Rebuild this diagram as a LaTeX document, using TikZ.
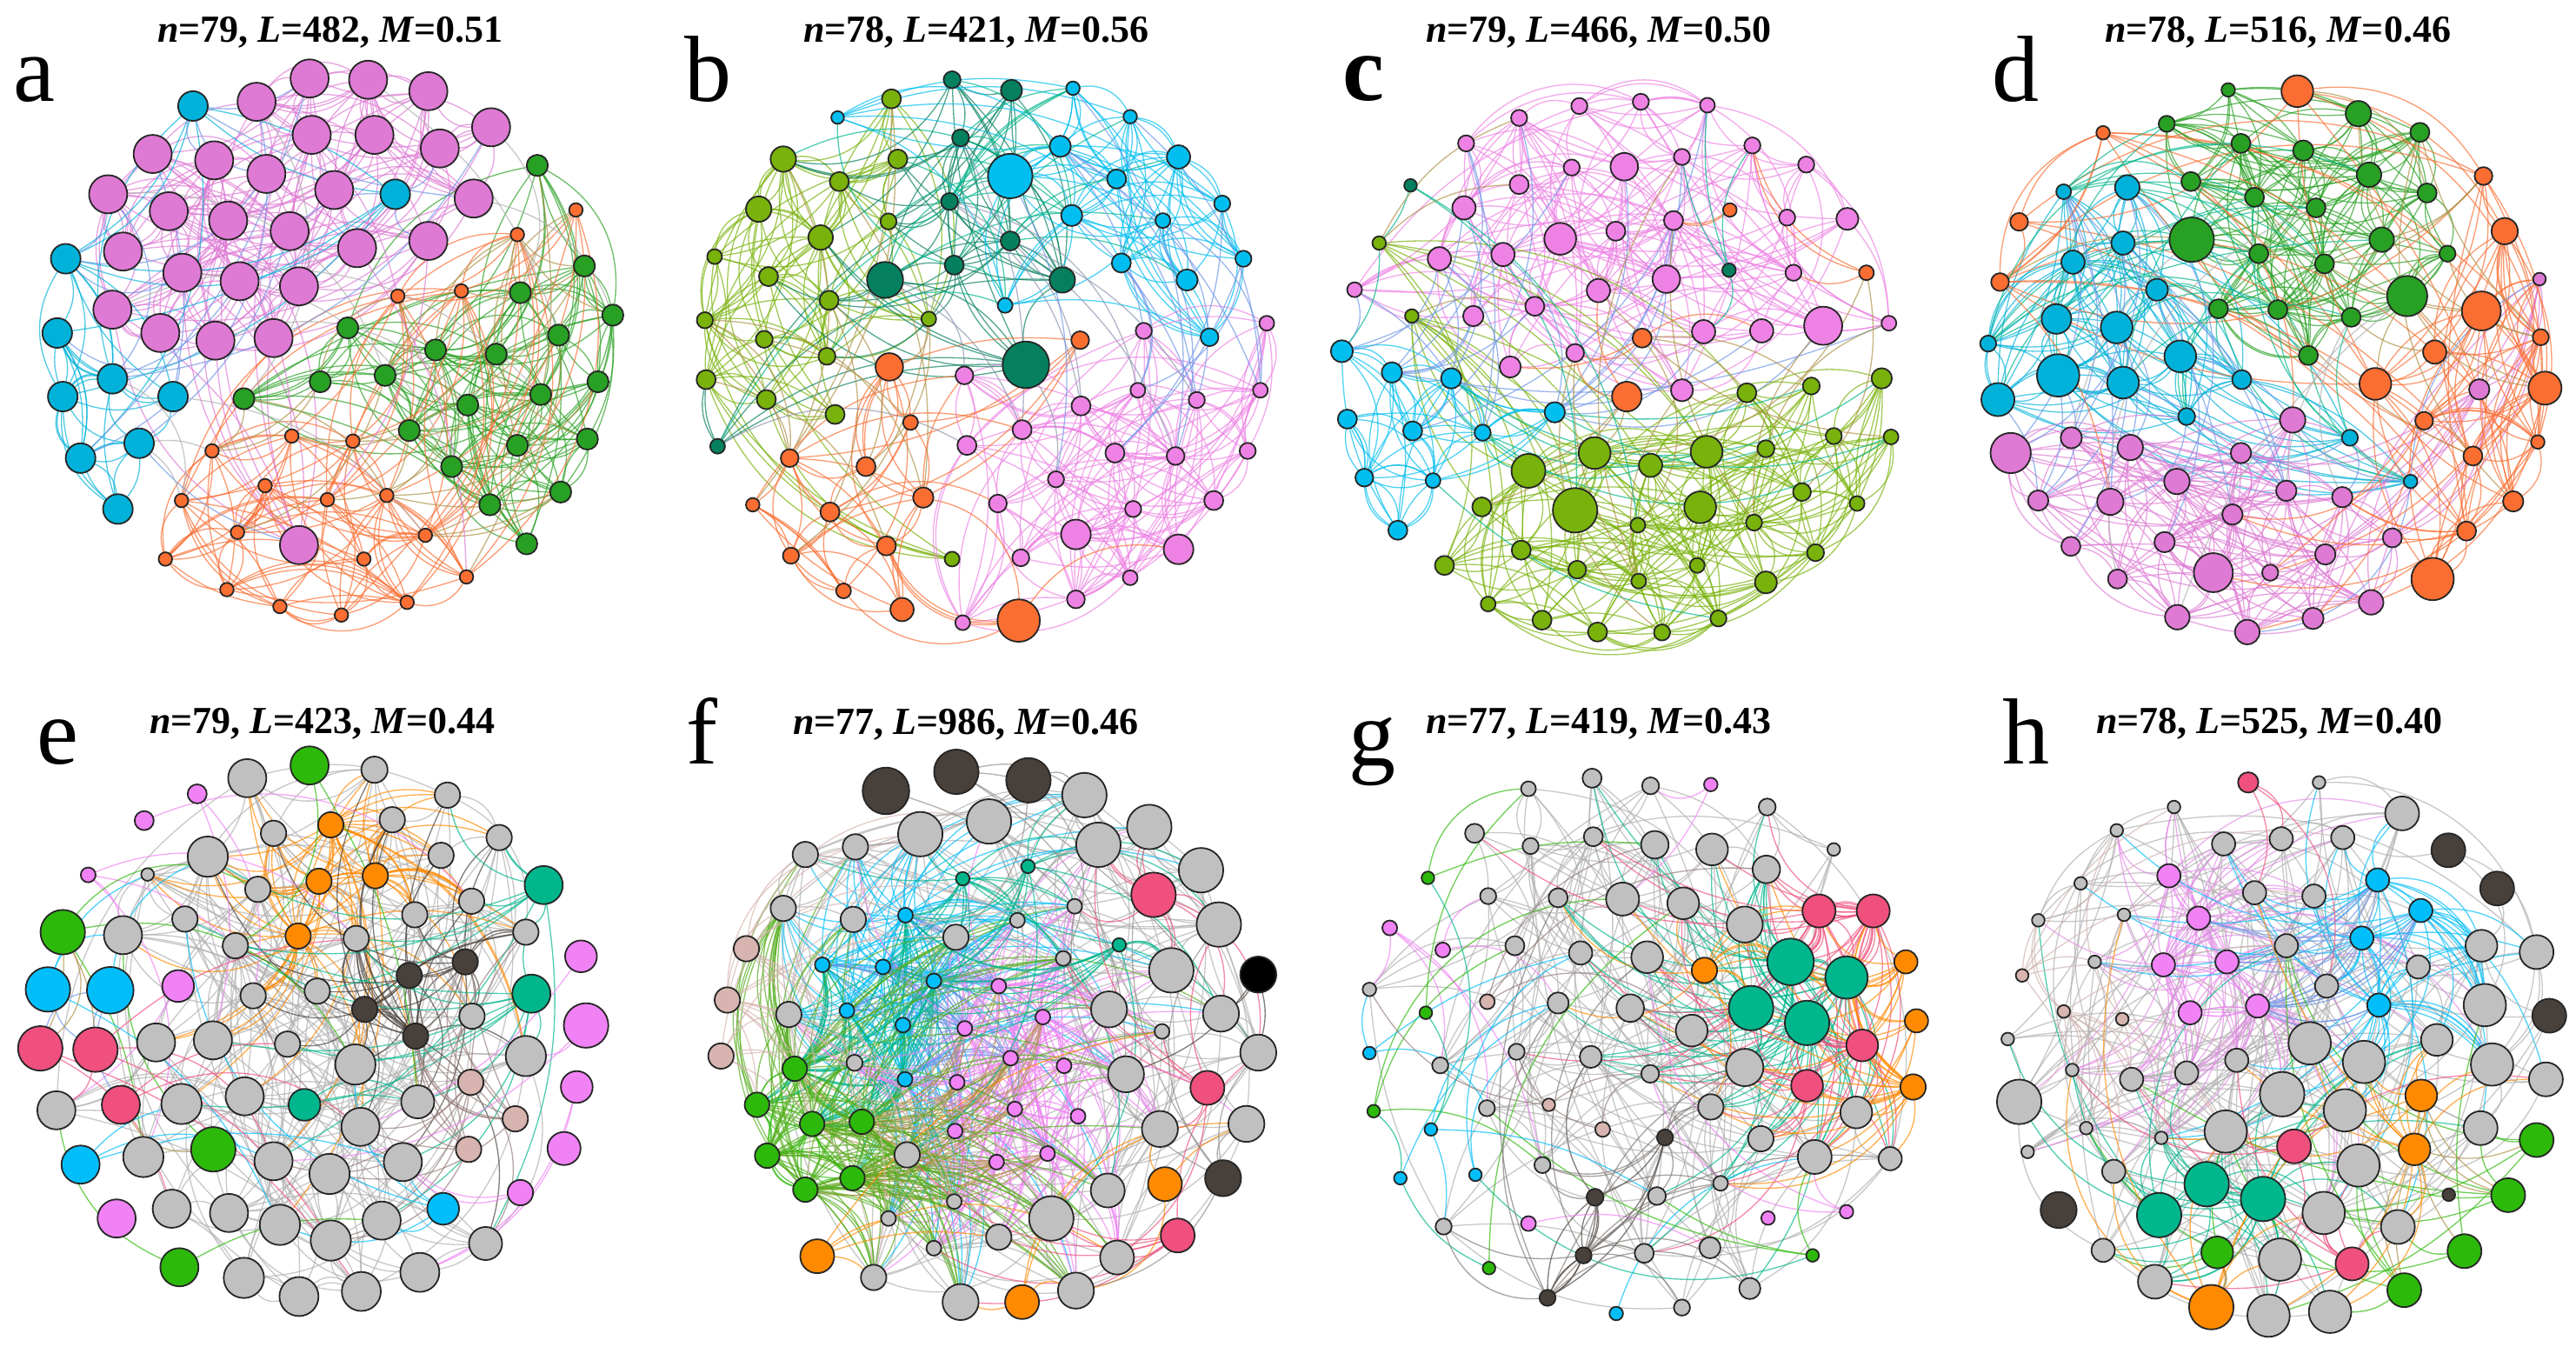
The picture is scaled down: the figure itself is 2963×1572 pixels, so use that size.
\documentclass[tikz,border=0pt]{standalone}
\usepackage{fontspec}
\setmainfont{Liberation Serif}
\pgfdeclarelayer{bgfill}
\pgfdeclarelayer{background}
\pgfsetlayers{bgfill,background,main}
\definecolor{pinkA}{RGB}{222,122,212}
\definecolor{cyanA}{RGB}{0,178,218}
\definecolor{greenA}{RGB}{40,160,35}
\definecolor{orangeA}{RGB}{250,110,50}
\definecolor{oliveB}{RGB}{120,178,10}
\definecolor{tealB}{RGB}{5,128,95}
\definecolor{cyanB}{RGB}{0,190,240}
\definecolor{pinkB}{RGB}{238,130,228}
\definecolor{greyN}{RGB}{192,192,192}
\definecolor{greyEdge}{RGB}{175,175,175}
\definecolor{greenE}{RGB}{45,185,10}
\definecolor{cyanE}{RGB}{0,190,250}
\definecolor{redE}{RGB}{240,80,125}
\definecolor{tealE}{RGB}{0,182,140}
\definecolor{orangeE}{RGB}{255,138,0}
\definecolor{darkE}{RGB}{72,64,58}
\definecolor{rosyE}{RGB}{215,180,175}
\definecolor{violetE}{RGB}{240,130,245}
\definecolor{cornE}{RGB}{110,150,230}
\definecolor{tanE}{RGB}{175,145,70}
\definecolor{bluegrayE}{RGB}{140,150,175}
\tikzset{
  netnode/.style={circle, draw=black!85, line width=0.45pt, inner sep=0pt, outer sep=0pt},
  netedge/.style={line width=0.33pt, opacity=0.68},
  paneltitle/.style={font=\fontsize{11}{12}\selectfont\bfseries, anchor=base, inner sep=0pt},
  panelletter/.style={font=\fontsize{27}{27}\selectfont, anchor=base west, inner sep=0pt},
  panelscope/.style={x=0.121951pt, y=-0.121951pt}
}
% place a community and remember node coordinates (in hundreds of units)
\newcommand\placecomm[3]{%
  \foreach \x/\y/\d [count=\k] in {#3} {%
    \node[netnode, fill=#2, minimum size=\d*0.122pt] (#1\k) at (\x,\y) {};
    \pgfmathsetmacro\sx{\x/100}\pgfmathsetmacro\sy{\y/100}%
    \expandafter\xdef\csname nx@#1\k\endcsname{\sx}%
    \expandafter\xdef\csname ny@#1\k\endcsname{\sy}}}
% among #5 random candidates of community #3 (size #4), pick the nearest to node #1#2
\newcommand\pickNear[5]{%
  \xdef\bestj{#2}\xdef\bestd{1000}%
  \foreach \t in {1,...,#5}{%
    \pgfmathtruncatemacro\cand{random(1,#4)}%
    \pgfmathsetmacro\dd{veclen(\csname nx@#1#2\endcsname-\csname nx@#3\cand\endcsname,\csname ny@#1#2\endcsname-\csname ny@#3\cand\endcsname)}%
    \pgfmathparse{and(\dd<\bestd,\dd>0.01)}%
    \ifdim\pgfmathresult pt>0.5pt \xdef\bestj{\cand}\xdef\bestd{\dd}\fi}}
\newcommand\intraedges[5]{%
  \foreach \i in {1,...,#2}{\foreach \r in {1,...,#3}{%
    \pickNear{#1}{\i}{#1}{#2}{2}%
    \pgfmathtruncatemacro\bnd{random(12,#5)}%
    \ifnum\bestj=\i\relax\else\draw[netedge,draw=#4] (#1\i) to[bend left=\bnd] (#1\bestj);\fi}}}
\newcommand\crossedges[6]{%
  \foreach \r in {1,...,#5}{%
    \pgfmathtruncatemacro\ii{random(1,#2)}%
    \pickNear{#1}{\ii}{#3}{#4}{3}%
    \pgfmathtruncatemacro\bnd{random(12,40)}%
    \draw[netedge,draw=#6] (#1\ii) to[bend left=\bnd] (#3\bestj);}}
\begin{document}
\begin{tikzpicture}[x=0.25pt,y=-0.25pt]
\pgfmathsetseed{12345}
\useasboundingbox (0,0) rectangle (2963,1572);
\begin{pgfonlayer}{bgfill}\fill[white] (0,0) rectangle (2963,1572);\end{pgfonlayer}

% ---------- titles and letters ----------
\node[paneltitle] (ta) at (380,49) {\textit{n}=79, \textit{L}=482, \textit{M}=0.51};
\node[paneltitle] (tb) at (1123,49) {\textit{n}=78, \textit{L}=421, \textit{M}=0.56};
\node[paneltitle] (tc) at (1839,49) {\textit{n}=79, \textit{L}=466, \textit{M}=0.50};
\node[paneltitle] (td) at (2620,49) {\textit{n}=78, \textit{L}=516, \textit{M}=0.46};
\node[paneltitle] (te) at (371,843) {\textit{n}=79, \textit{L}=423, \textit{M}=0.44};
\node[paneltitle] (tf) at (1111,844) {\textit{n}=77, \textit{L}=986, \textit{M}=0.46};
\node[paneltitle] (tg) at (1839,843) {\textit{n}=77, \textit{L}=419, \textit{M}=0.43};
\node[paneltitle] (th) at (2610,843) {\textit{n}=78, \textit{L}=525, \textit{M}=0.40};
\node[panelletter] (la) at (15,117) {a};
\node[panelletter] (lb) at (787,117) {b};
\node[panelletter,font=\fontsize{27}{27}\selectfont\bfseries] (lc) at (1544,116) {c};
\node[panelletter] (ld) at (2291,117) {d};
\node[panelletter] (le) at (42,878) {e};
\node[panelletter] (lf) at (789,878) {f};
\node[panelletter] (lg) at (1551,880) {g};
\node[panelletter] (lh) at (2303,878) {h};

% ---------- panel a ----------
\begin{scope}[shift={(0,0)},panelscope]
\placecomm{aP}{pinkA}{730/185/90, 868/188/90, 1010/215/90, 605/240/90, 1158/300/90, 735/318/90, 883/318/90, 1037/350/90, 360/363/90, 505/378/90, 628/410/90, 788/448/90, 255/458/90, 1117/468/90, 398/498/90, 538/520/90, 683/545/90, 842/585/90, 1010/568/90, 290/593/90, 430/643/90, 565/663/90, 705/675/90, 265/730/90, 378/785/90, 508/803/90, 645/797/90, 705/1285/90}
\placecomm{aC}{cyanA}{455/250/70, 932/458/70, 155/610/70, 135/785/70, 265/893/70, 148/935/70, 408/935/70, 328/1045/70, 190/1080/70, 278/1200/70}
\placecomm{aG}{greenA}{1267/390/50, 1378/627/50, 1227/690/50, 1445/743/50, 820/773/50, 1027/825/50, 1317/790/50, 1170/835/50, 908/885/50, 755/900/50, 575/940/50, 1410/900/50, 1275/930/50, 1103/955/50, 965/1015/50, 1220/1050/50, 1385/1035/50, 1065/1100/50, 1322/1160/50, 1155/1190/50, 1242/1282/50}
\placecomm{aO}{orangeA}{1358/495/32, 1220/553/32, 1088/686/32, 938/698/32, 688/1028/32, 832/1040/32, 500/1063/32, 625/1145/32, 428/1180/32, 772/1178/32, 912/1168/32, 560/1255/32, 1003/1262/32, 390/1318/32, 858/1318/32, 1100/1360/32, 535/1390/32, 660/1430/32, 805/1450/32, 960/1420/32}
\begin{pgfonlayer}{background}
\intraedges{aP}{28}{7}{pinkA}{40}
\intraedges{aC}{10}{5}{cyanA}{35}
\intraedges{aG}{21}{7}{greenA}{40}
\intraedges{aO}{20}{6}{orangeA}{40}
\crossedges{aP}{28}{aC}{10}{20}{cornE}
\crossedges{aG}{21}{aO}{20}{30}{tanE}
\crossedges{aP}{28}{aG}{21}{8}{greyEdge}
\crossedges{aP}{28}{aO}{20}{4}{pinkA}
\crossedges{aC}{10}{aO}{20}{4}{greyEdge}
\end{pgfonlayer}
\end{scope}

% ---------- panel b ----------
\begin{scope}[shift={(740,0)},panelscope]
\placecomm{bO}{oliveB}{585/233/45, 330/375/60, 600/375/45, 462/428/45, 272/493/60, 578/522/38, 418/560/58, 168/605/35, 295/652/45, 438/708/45, 673/752/35, 145/755/38, 285/800/40, 433/840/40, 148/895/45, 290/942/45, 452/977/45, 728/1318/35}
\placecomm{bT}{tealB}{728/188/40, 868/213/50, 748/325/40, 722/475/40, 865/568/45, 733/625/45, 570/660/85, 988/660/60, 902/860/110, 175/1052/35}
\placecomm{bC}{cyanB}{1013/208/32, 1148/275/32, 458/277/30, 983/345/50, 1262/370/55, 865/415/105, 1116/422/45, 1010/508/50, 1365/480/38, 1225/520/35, 1127/620/45, 1415/610/38, 1282/660/50, 853/720/35, 1335/795/42}
\placecomm{bP}{pinkB}{1180/780/38, 1470/762/35, 757/885/42, 1166/920/35, 1305/943/38, 1455/920/35, 1032/957/45, 893/1013/45, 763/1050/45, 1112/1068/45, 1255/1075/42, 1425/1063/38, 973/1130/38, 836/1187/42, 1155/1200/38, 1345/1180/45, 1020/1260/70, 1262/1295/70, 890/1315/40, 1148/1362/35, 1020/1413/42, 753/1468/35}
\placecomm{bR}{orangeA}{1030/802/42, 580/865/65, 630/996/35, 345/1080/42, 525/1100/45, 258/1190/32, 660/1173/48, 440/1207/45, 573/1287/45, 348/1310/38, 472/1393/35, 610/1437/55, 885/1463/100}
\begin{pgfonlayer}{background}
\intraedges{bO}{18}{6}{oliveB}{40}
\intraedges{bT}{10}{4}{tealB}{35}
\intraedges{bC}{15}{6}{cyanB}{40}
\intraedges{bP}{22}{7}{pinkB}{40}
\intraedges{bR}{13}{4}{orangeA}{40}
\crossedges{bT}{10}{bO}{18}{25}{tealB}
\crossedges{bT}{10}{bC}{15}{20}{tealE}
\crossedges{bT}{10}{bP}{22}{10}{bluegrayE}
\crossedges{bC}{15}{bP}{22}{15}{cornE}
\crossedges{bO}{18}{bR}{13}{15}{tanE}
\crossedges{bR}{13}{bP}{22}{5}{orangeA}
\crossedges{bO}{18}{bC}{15}{5}{tealE}
\end{pgfonlayer}
\end{scope}

% ---------- panel c ----------
\begin{scope}[shift={(1480,0)},panelscope]
\placecomm{cP}{pinkB}{690/250/38, 835/240/38, 992/248/35, 548/278/38, 423/338/38, 1098/343/38, 932/370/38, 796/393/65, 672/395/38, 1225/388/38, 548/435/45, 418/490/55, 912/520/45, 1180/513/38, 1322/516/52, 776/545/45, 645/563/75, 510/600/55, 360/610/55, 160/683/35, 895/658/65, 1195/643/38, 735/685/55, 585/722/45, 440/745/48, 983/782/55, 1120/780/55, 1265/768/90, 1420/762/35, 680/832/42, 527/865/50, 932/920/52}
\placecomm{cT}{tealB}{292/437/30, 1043/637/32}
\placecomm{cR}{orangeA}{1045/495/32, 1367/643/35, 838/797/45, 802/935/70}
\placecomm{cO}{oliveB}{218/573/32, 295/745/32, 1085/926/45, 1237/910/40, 1403/892/48, 1290/1028/38, 1425/1030/35, 726/1068/75, 990/1065/75, 570/1110/80, 1130/1058/40, 858/1097/55, 680/1203/105, 975/1196/75, 460/1195/45, 1215/1160/42, 1345/1187/35, 828/1238/35, 1102/1232/38, 553/1297/45, 685/1343/42, 968/1333/35, 1247/1303/40, 372/1333/45, 1130/1373/52, 830/1370/35, 475/1424/35, 602/1462/45, 733/1490/45, 885/1491/38, 1018/1458/38}
\placecomm{cC}{cyanB}{130/828/52, 248/878/48, 388/892/48, 143/988/45, 297/1016/45, 462/1020/38, 632/972/48, 183/1126/42, 345/1133/35, 262/1250/45}
\begin{pgfonlayer}{background}
\intraedges{cP}{32}{6}{pinkB}{40}
\intraedges{cO}{31}{7}{oliveB}{40}
\intraedges{cC}{10}{6}{cyanB}{35}
\crossedges{cP}{32}{cC}{10}{25}{cornE}
\crossedges{cO}{31}{cC}{10}{10}{tealE}
\crossedges{cR}{4}{cP}{32}{10}{orangeA}
\crossedges{cR}{4}{cO}{31}{8}{tanE}
\crossedges{cT}{2}{cP}{32}{4}{tealE}
\crossedges{cT}{2}{cO}{31}{3}{tealE}
\crossedges{cO}{31}{cP}{32}{12}{tanE}
\end{pgfonlayer}
\end{scope}

% ---------- panel d ----------
\begin{scope}[shift={(2220,0)},panelscope]
\placecomm{dG}{greenA}{703/212/32, 1010/268/60, 558/292/38, 1155/312/45, 733/338/45, 880/355/48, 1035/412/58, 615/428/45, 765/465/45, 1172/455/45, 910/490/45, 617/565/105, 1065/565/58, 775/598/45, 930/622/45, 1220/598/38, 1125/698/95, 680/728/45, 820/730/45, 993/748/45, 892/838/45}
\placecomm{dR}{orangeA}{866/215/75, 408/313/32, 1305/415/42, 210/523/42, 1355/545/62, 165/665/42, 1300/733/92, 1440/795/38, 1190/830/55, 1050/905/75, 1450/915/78, 1165/992/42, 1433/1042/32, 1280/1075/45, 1375/1182/48, 1265/1252/45, 1185/1365/100}
\placecomm{dC}{cyanA}{315/452/35, 465/442/58, 455/573/55, 337/618/55, 535/683/52, 298/752/70, 440/772/75, 137/810/38, 590/840/75, 302/885/100, 455/902/75, 160/942/78, 735/895/45, 605/982/40, 990/1032/38, 1133/1135/32}
\placecomm{dP}{pinkA}{1437/658/30, 855/990/60, 1295/918/48, 333/1032/50, 190/1068/95, 472/1055/60, 733/1068/48, 582/1135/60, 840/1157/48, 972/1172/48, 255/1180/48, 425/1183/62, 713/1213/48, 553/1278/48, 332/1288/45, 1090/1268/45, 932/1307/48, 668/1350/92, 802/1350/38, 442/1365/45, 1040/1420/58, 583/1455/58, 903/1458/50, 748/1490/58}
\begin{pgfonlayer}{background}
\intraedges{dG}{21}{8}{greenA}{40}
\intraedges{dC}{16}{7}{cyanA}{40}
\intraedges{dP}{24}{7}{pinkA}{40}
\intraedges{dR}{17}{5}{orangeA}{40}
\crossedges{dC}{16}{dG}{21}{35}{tealE}
\crossedges{dC}{16}{dP}{24}{25}{cornE}
\crossedges{dR}{17}{dG}{21}{15}{tanE}
\crossedges{dR}{17}{dP}{24}{20}{orangeA}
\crossedges{dP}{24}{dG}{21}{5}{greyEdge}
\end{pgfonlayer}
\end{scope}

% ---------- panel e ----------
\begin{scope}[shift={(0,790)},panelscope]
\placecomm{eY}{greyN}{583/215/90, 883/195/62, 1055/255/60, 645/345/60, 925/313/60, 1177/355/60, 490/400/95, 1040/397/60, 348/442/30, 608/477/60, 1112/505/60, 436/547/60, 978/537/60, 290/585/90, 555/610/60, 840/593/60, 1240/578/60, 597/728/60, 748/717/60, 1113/776/60, 678/842/60, 368/838/90, 502/833/90, 838/890/95, 1240/870/95, 133/998/90, 428/983/95, 577/965/90, 985/978/78, 850/1037/90, 338/1108/95, 645/1118/90, 777/1148/95, 950/1120/90, 405/1230/90, 540/1240/90, 660/1268/95, 900/1258/90, 780/1305/95, 1145/1312/78, 575/1393/95, 990/1380/92, 705/1437/92, 852/1425/92}
\placecomm{eO}{orangeE}{780/325/60, 752/458/60, 885/445/60, 703/587/60}
\placecomm{eD}{darkE}{1097/648/60, 965/680/60, 860/760/60, 980/823/60}
\placecomm{eT}{tealE}{1282/467/90, 1253/723/90, 718/985/75}
\placecomm{eR}{rosyE}{1110/932/60, 1215/1018/60, 1105/1090/60}
\placecomm{eV}{violetE}{465/252/45, 340/315/45, 208/443/35, 420/705/75, 1370/635/75, 1382/798/105, 1360/943/75, 1330/1088/78, 1227/1192/60, 275/1253/90}
\placecomm{eG}{greenE}{730/185/90, 148/578/105, 503/1090/105, 423/1368/90}
\placecomm{eC}{cyanE}{113/713/105, 260/715/110, 190/1126/90, 1045/1230/75}
\placecomm{eK}{redE}{95/852/105, 225/855/105, 285/985/90}
\begin{pgfonlayer}{background}
\intraedges{eY}{44}{5}{greyEdge}{40}
\intraedges{eO}{4}{3}{orangeE}{30}
\intraedges{eD}{4}{3}{darkE}{30}
\crossedges{eO}{4}{eY}{44}{80}{orangeE}
\crossedges{eD}{4}{eY}{44}{40}{darkE}
\crossedges{eT}{3}{eY}{44}{25}{tealE}
\crossedges{eR}{3}{eY}{44}{15}{rosyE!70!black}
\crossedges{eR}{3}{eD}{4}{10}{rosyE!70!black}
\crossedges{eV}{10}{eY}{44}{15}{violetE}
\crossedges{eG}{4}{eY}{44}{8}{greenE}
\crossedges{eC}{4}{eY}{44}{12}{cyanE}
\crossedges{eK}{3}{eY}{44}{8}{redE}
\crossedges{eK}{3}{eC}{4}{4}{cornE}
\crossedges{eG}{4}{eK}{3}{4}{tanE}
\end{pgfonlayer}
\end{scope}

% ---------- panel f ----------
\begin{scope}[shift={(740,790)},panelscope]
\placecomm{fD}{darkE}{572/245/110, 738/200/105, 908/220/105, 1367/1158/85}
\placecomm{fB}{black}{1450/678/85}
\placecomm{fY}{greyN}{1040/255/105, 815/317/105, 653/347/105, 1193/330/105, 1073/372/105, 1315/432/105, 382/395/60, 500/377/60, 330/522/60, 495/548/60, 1017/517/35, 882/550/35, 737/590/60, 990/640/35, 1245/668/105, 1357/560/105, 1098/760/85, 1362/770/85, 343/772/60, 1223/812/35, 1450/862/85, 498/886/38, 1138/913/85, 1422/1030/85, 1218/1042/85, 622/1103/60, 1095/1187/80, 962/1253/105, 733/1213/35, 578/1253/35, 838/1297/60, 685/1323/35, 1117/1345/80, 543/1392/60, 1020/1423/85, 748/1450/85}
\placecomm{fR}{rosyE}{243/617/60, 198/738/60, 183/870/60}
\placecomm{fT}{tealE}{907/423/32, 753/452/32, 1122/608/32}
\placecomm{fC}{cyanE}{618/538/35, 422/655/35, 565/660/35, 685/693/35, 480/763/35, 612/797/35, 617/925/35}
\placecomm{fP}{violetE}{838/705/35, 942/778/35, 758/805/35, 866/875/35, 992/893/35, 740/932/35, 876/995/35, 1025/1012/35, 735/1047/35, 833/1120/35, 953/1100/35}
\placecomm{fG}{greenE}{357/900/58, 268/985/58, 398/1030/58, 515/1025/58, 292/1105/58, 382/1185/58, 493/1158/58}
\placecomm{fK}{redE}{1203/490/105, 1330/945/80, 1260/1293/80}
\placecomm{fO}{orangeE}{1230/1172/80, 410/1342/80, 893/1450/80}
\begin{pgfonlayer}{background}
\intraedges{fY}{36}{5}{greyEdge}{40}
\intraedges{fC}{7}{5}{cyanE}{30}
\intraedges{fP}{11}{6}{violetE}{30}
\intraedges{fG}{7}{6}{greenE}{30}
\crossedges{fC}{7}{fY}{36}{100}{cyanE}
\crossedges{fC}{7}{fP}{11}{60}{cornE}
\crossedges{fC}{7}{fG}{7}{60}{tealE}
\crossedges{fP}{11}{fY}{36}{130}{violetE}
\crossedges{fP}{11}{fG}{7}{50}{tanE}
\crossedges{fG}{7}{fY}{36}{130}{greenE!70!tanE}
\crossedges{fT}{3}{fY}{36}{25}{tealE}
\crossedges{fT}{3}{fC}{7}{20}{tealE}
\crossedges{fR}{3}{fY}{36}{20}{rosyE}
\crossedges{fR}{3}{fG}{7}{10}{rosyE}
\crossedges{fK}{3}{fY}{36}{25}{redE}
\crossedges{fO}{3}{fY}{36}{12}{orangeE}
\crossedges{fD}{4}{fY}{36}{15}{darkE!60!white}
\crossedges{fB}{1}{fY}{36}{3}{darkE}
\end{pgfonlayer}
\end{scope}

% ---------- panel g ----------
\begin{scope}[shift={(1480,790)},panelscope]
\placecomm{gY}{greyN}{720/215/45, 858/233/40, 1133/283/40, 570/240/35, 443/345/45, 723/353/45, 575/375/38, 868/372/65, 1003/383/75, 1290/383/30, 1131/430/65, 475/493/38, 640/497/45, 792/500/78, 935/510/75, 1080/560/85, 538/610/45, 693/627/55, 850/637/75, 195/713/32, 640/745/50, 810/757/65, 955/810/75, 542/860/38, 362/892/38, 717/872/52, 857/912/42, 1080/897/88, 472/993/38, 1000/990/60, 1343/1003/75, 1118/1065/60, 1245/1108/80, 1423/1112/55, 603/1127/38, 1023/1170/35, 873/1200/42, 370/1272/38, 843/1335/45, 998/1322/50, 1092/1418/50, 932/1463/38}
\placecomm{gT}{tealE}{1188/648/110, 1320/685/100, 1095/757/105, 1227/792/105}
\placecomm{gK}{redE}{1255/528/78, 1383/528/78, 1357/845/75, 1227/940/75}
\placecomm{gO}{orangeE}{985/668/60, 1460/648/55, 1485/787/55, 1477/943/60}
\placecomm{gV}{violetE}{1000/230/32, 243/568/35, 368/620/35, 570/1265/35, 1135/1252/32, 1320/1237/32}
\placecomm{gG}{greenE}{333/450/30, 328/768/30, 205/1000/30, 1240/1340/30, 477/1370/30}
\placecomm{gC}{cyanE}{195/863/30, 340/1043/30, 445/1150/30, 268/1158/30, 777/1477/32}
\placecomm{gR}{rosyE}{473/742/35, 618/985/30, 745/1043/35}
\placecomm{gD}{darkE}{892/1062/38, 727/1203/40, 700/1340/38, 615/1440/38}
\begin{pgfonlayer}{background}
\intraedges{gY}{42}{4}{greyEdge}{40}
\intraedges{gT}{4}{3}{tealE}{25}
\intraedges{gK}{4}{3}{redE}{25}
\intraedges{gD}{4}{3}{darkE}{25}
\crossedges{gT}{4}{gY}{42}{70}{tealE}
\crossedges{gK}{4}{gY}{42}{40}{redE}
\crossedges{gK}{4}{gT}{4}{30}{redE}
\crossedges{gO}{4}{gY}{42}{20}{orangeE}
\crossedges{gO}{4}{gT}{4}{20}{orangeE}
\crossedges{gO}{4}{gK}{4}{12}{orangeE}
\crossedges{gV}{6}{gY}{42}{12}{violetE}
\crossedges{gG}{5}{gY}{42}{10}{greenE}
\crossedges{gC}{5}{gY}{42}{10}{cyanE}
\crossedges{gG}{5}{gC}{5}{5}{tealE}
\crossedges{gR}{3}{gY}{42}{8}{rosyE!70!black}
\crossedges{gD}{4}{gY}{42}{25}{darkE!70!white}
\end{pgfonlayer}
\end{scope}

% ---------- panel h ----------
\begin{scope}[shift={(2203,790)},panelscope]
\placecomm{hY}{greyN}{952/225/30, 610/283/30, 475/338/30, 1148/298/80, 727/370/55, 863/358/55, 1008/355/55, 390/463/30, 800/485/55, 940/493/55, 290/550/30, 492/537/30, 875/610/55, 423/648/30, 1186/660/55, 1335/610/75, 1465/625/80, 970/705/55, 218/830/30, 1343/750/100, 1230/832/75, 930/840/100, 758/880/55, 370/903/30, 640/910/55, 510/925/55, 1058/884/100, 1360/890/100, 1487/925/80, 245/978/105, 865/960/105, 1013/998/100, 1333/1040/80, 403/1040/30, 580/1063/30, 732/1048/100, 265/1096/30, 1045/1128/100, 468/1142/55, 963/1240/100, 1138/1273/80, 860/1350/100, 443/1328/55, 565/1402/80, 833/1482/100, 978/1473/100}
\placecomm{hK}{redE}{785/225/48, 893/1083/80, 1030/1360/78}
\placecomm{hV}{violetE}{598/445/55, 668/545/55, 585/655/55, 735/648/55, 648/768/55, 807/752/55}
\placecomm{hC}{cyanE}{1090/455/55, 1192/527/55, 1053/592/55, 1093/750/55}
\placecomm{hR}{rosyE}{252/680/30, 350/765/30, 488/783/30}
\placecomm{hD}{darkE}{1257/385/80, 1372/475/80, 1495/775/80, 338/1233/85, 1258/1197/30}
\placecomm{hO}{orangeE}{1193/963/75, 1177/1090/75, 698/1462/105}
\placecomm{hG}{greenE}{1465/1068/80, 1398/1198/80, 1295/1330/80, 1153/1422/80, 712/1333/75}
\placecomm{hT}{tealE}{687/1172/105, 820/1207/105, 575/1245/105}
\begin{pgfonlayer}{background}
\intraedges{hY}{46}{4}{greyEdge}{40}
\intraedges{hV}{6}{3}{violetE}{25}
\intraedges{hC}{4}{2}{cyanE}{25}
\crossedges{hV}{6}{hY}{46}{90}{violetE!80!greyEdge}
\crossedges{hC}{4}{hY}{46}{60}{cyanE}
\crossedges{hC}{4}{hV}{6}{20}{cornE}
\crossedges{hT}{3}{hY}{46}{40}{tealE}
\crossedges{hG}{5}{hY}{46}{20}{greenE}
\crossedges{hG}{5}{hO}{3}{10}{tanE}
\crossedges{hO}{3}{hY}{46}{25}{orangeE}
\crossedges{hK}{3}{hY}{46}{15}{redE}
\crossedges{hD}{5}{hY}{46}{10}{greyEdge}
\crossedges{hR}{3}{hY}{46}{25}{rosyE!80!greyEdge}
\end{pgfonlayer}
\end{scope}
\end{tikzpicture}
\end{document}
